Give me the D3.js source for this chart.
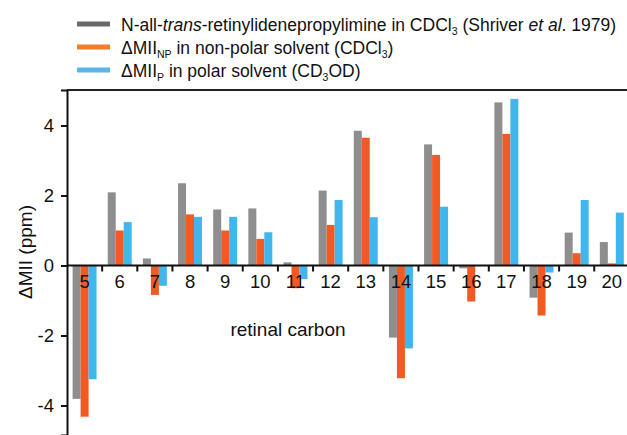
<!DOCTYPE html>
<html>
<head>
<meta charset="utf-8">
<script src="https://cdn.jsdelivr.net/npm/d3@7"></script>
<style>
  body { margin: 0; background: #fff; }
  text { font-family: "Liberation Sans", Arial, Helvetica, sans-serif; fill: #111; }
</style>
</head>
<body>
<svg id="chart" width="627" height="435"></svg>
<script>
// data (ppm)
var carbons = ["5","6","7","8","9","10","11","12","13","14","15","16","17","18","19","20"];
var shriver = [-3.81, 2.09, 0.2, 2.35, 1.6, 1.63, 0.09, 2.14, 3.85, -2.06, 3.46, -0.08, 4.66, -0.92, 0.94, 0.67];
var nonPolar = [-4.32, 1.0, -0.84, 1.46, 1.0, 0.76, -0.65, 1.16, 3.65, -3.22, 3.16, -1.03, 3.76, -1.43, 0.35, 0.06];
var polar = [-3.25, 1.24, -0.58, 1.39, 1.39, 0.95, -0.39, 1.87, 1.38, -2.37, 1.68, 0, 4.76, -0.2, 1.87, 1.51];
var yTicks = [-4, -2, 0, 2, 4];
var seriesKeys = ["shriver", "np", "p"];
var barColours = { shriver: "#8e8e8e", np: "#f15a22", p: "#40b6ec" };
var legendColours = { shriver: "#6a6a6a", np: "#ef7f2d", p: "#5cb5e6" };

var svg = d3.select("#chart");
var plotLeft = 67, plotRight = 629.4, plotTop = 90, plotBottom = 435;

var x = d3.scaleBand().domain(carbons).range([plotLeft, plotRight]).padding(0);
var x1 = d3.scaleBand().domain(seriesKeys).range([0, x.bandwidth()]).paddingInner(0).paddingOuter(0.7);
var y = d3.scaleLinear().domain([-4.843, 5.014]).range([plotBottom, plotTop]);

var rows = carbons.map(function(c, i) {
  return { c: c, shriver: shriver[i], np: nonPolar[i], p: polar[i] };
});

// bars
var groups = svg.append("g").selectAll("g")
  .data(rows).enter().append("g")
  .attr("transform", function(d) { return "translate(" + x(d.c) + ",0)"; });
groups.selectAll("rect")
  .data(function(d) { return seriesKeys.map(function(k) { return { k: k, v: d[k] }; }); })
  .enter().append("rect")
  .attr("x", function(d) { return x1(d.k); })
  .attr("width", x1.bandwidth())
  .attr("y", function(d) { return y(Math.max(0, d.v)); })
  .attr("height", function(d) { return Math.abs(y(d.v) - y(0)); })
  .attr("fill", function(d) { return barColours[d.k]; });

// frame: top line and zero line
svg.append("line").attr("x1", plotLeft).attr("x2", 627).attr("y1", plotTop).attr("y2", plotTop)
  .attr("stroke", "#222").attr("stroke-width", 2);
svg.append("line").attr("x1", plotLeft).attr("x2", 627).attr("y1", y(0)).attr("y2", y(0))
  .attr("stroke", "#111").attr("stroke-width", 2);

// boundary ticks under zero line
svg.append("g").selectAll("line")
  .data(carbons.slice(1)).enter().append("line")
  .attr("x1", function(d) { return x(d); }).attr("x2", function(d) { return x(d); })
  .attr("y1", y(0)).attr("y2", y(0) + 6)
  .attr("stroke", "#111").attr("stroke-width", 2);

// category labels over the bars
svg.append("g").selectAll("text")
  .data(carbons).enter().append("text")
  .attr("x", function(d) { return x(d) + x.bandwidth() / 2; })
  .attr("y", y(0) + 23)
  .attr("text-anchor", "middle")
  .attr("font-size", 18.5)
  .text(function(d) { return d; });

// y axis (plain hyphen for negatives, as in the figure)
var yAxis = svg.append("g")
  .attr("transform", "translate(" + plotLeft + ",0)")
  .call(d3.axisLeft(y).tickValues(yTicks).tickSize(6).tickPadding(7)
    .tickFormat(function(d) { return String(d); }));
yAxis.select(".domain").attr("stroke", "#111").attr("stroke-width", 2);
yAxis.selectAll(".tick line").attr("stroke", "#111").attr("stroke-width", 2);
yAxis.selectAll(".tick text").attr("font-size", 18.5).attr("font-family", "Liberation Sans, Arial, sans-serif").attr("fill", "#111");

// axis titles
svg.append("text")
  .attr("transform", "translate(32,252) rotate(-90)")
  .attr("text-anchor", "middle")
  .attr("font-size", 19)
  .text("ΔMII (ppm)");
svg.append("text")
  .attr("x", 288).attr("y", 336)
  .attr("text-anchor", "middle")
  .attr("font-size", 19)
  .text("retinal carbon");

// legend
var legendRows = [
  { k: "shriver", parts: [["N-all-"], ["trans", "i"], ["-retinylidenepropylimine in CDCl"], ["3", "s"], [" (Shriver "], ["et al", "i"], [". 1979)"]] },
  { k: "np", parts: [["ΔMII"], ["NP", "s"], [" in non-polar solvent (CDCl"], ["3", "s"], [")"]] },
  { k: "p", parts: [["ΔMII"], ["P", "s"], [" in polar solvent (CD"], ["3", "s"], ["OD)"]] }
];
var lg = svg.append("g").selectAll("g")
  .data(legendRows).enter().append("g")
  .attr("transform", function(d, i) { return "translate(77," + (24 + i * 23) + ")"; });
lg.append("line").attr("x1", 0).attr("x2", 33).attr("y1", 0).attr("y2", 0)
  .attr("stroke", function(d) { return legendColours[d.k]; }).attr("stroke-width", 5);
var lt = lg.append("text").attr("x", 44).attr("y", 6.5).attr("font-size", 17.5);
lt.each(function(d) {
  var t = d3.select(this);
  var wasSub = false;
  d.parts.forEach(function(p) {
    var s = t.append("tspan").text(p[0]);
    if (p[1] === "i") s.attr("font-style", "italic");
    if (p[1] === "s") { s.attr("font-size", 10.5).attr("dy", 4); wasSub = true; }
    else if (wasSub) { s.attr("dy", -4); wasSub = false; }
  });
});
</script>
</body>
</html>
